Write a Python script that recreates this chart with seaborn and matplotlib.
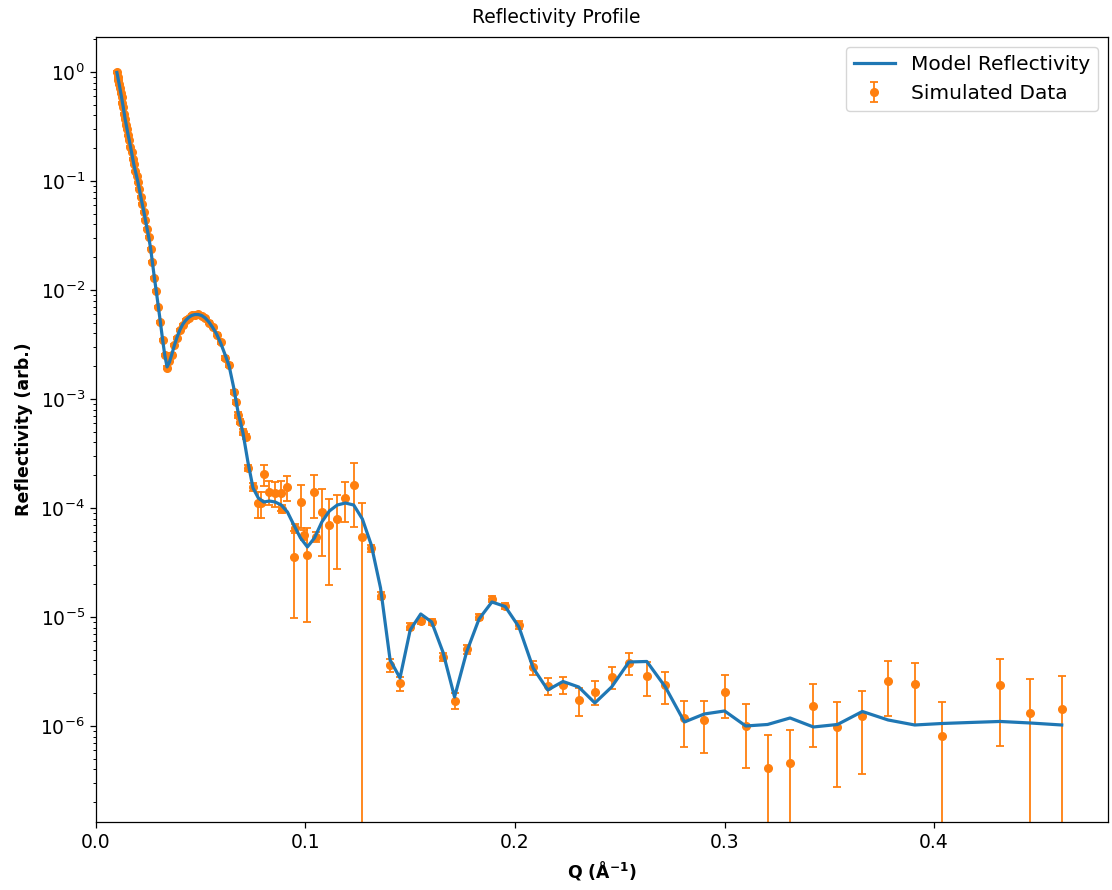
import numpy as np
import pandas as pd
import matplotlib
matplotlib.use("Agg")
import matplotlib.pyplot as plt
import seaborn as sns

# Momentum transfer grid (1/Angstrom) shared by the model curve and the main data set
q = [0.01000, 0.01034, 0.01068, 0.01104, 0.01141, 0.01180, 0.01219, 0.01260, 0.01302, 0.01346,
     0.01391, 0.01438, 0.01486, 0.01536, 0.01588, 0.01641, 0.01696, 0.01753, 0.01812, 0.01873,
     0.01936, 0.02001, 0.02068, 0.02137, 0.02209, 0.02283, 0.02360, 0.02439, 0.02521, 0.02605,
     0.02693, 0.02783, 0.02877, 0.02973, 0.03073, 0.03177, 0.03283, 0.03393, 0.03507, 0.03625,
     0.03747, 0.03873, 0.04003, 0.04137, 0.04276, 0.04419, 0.04568, 0.04721, 0.04880, 0.05043,
     0.05213, 0.05388, 0.05569, 0.05756, 0.05949, 0.06149, 0.06355, 0.06568, 0.06789, 0.07017,
     0.07252, 0.07496, 0.07748, 0.08008, 0.08276, 0.08554, 0.08842, 0.09138, 0.09445, 0.09762,
     0.10090, 0.10429, 0.10779, 0.11141, 0.11515, 0.11902, 0.12301, 0.12714, 0.13141, 0.13582,
     0.14038, 0.14510, 0.14997, 0.15500, 0.16021, 0.16559, 0.17114, 0.17689, 0.18283, 0.18897,
     0.19531, 0.20187, 0.20865, 0.21565, 0.22289, 0.23038, 0.23811, 0.24610, 0.25437, 0.26291,
     0.27174, 0.28086, 0.29029, 0.30003, 0.31010, 0.32052, 0.33128, 0.34240, 0.35390, 0.36578,
     0.37806, 0.39075, 0.40387, 0.41743, 0.43144, 0.44594, 0.46091]

# Model reflectivity at each q
model_r = [0.990, 0.919, 0.845, 0.784, 0.713, 0.648, 0.590, 0.531, 0.477, 0.421,
           0.3705, 0.3333, 0.2969, 0.2642, 0.2377, 0.2095, 0.1845, 0.1609, 0.1402, 0.1248,
           0.1111, 0.0981, 0.08445, 0.07208, 0.06152, 0.05251, 0.04387, 0.03665, 0.03032, 0.02428,
           0.01806, 0.01316, 0.00979, 0.00713, 0.00509, 0.00355, 0.00253, 0.00197, 0.00218, 0.00259,
           0.00313, 0.00371, 0.00430, 0.00483, 0.00525, 0.00559, 0.00584, 0.00596, 0.00596, 0.00584,
           0.00554, 0.00509, 0.00453, 0.00395, 0.00327, 0.00259, 0.00201, 0.001288, 0.000744, 0.000488,
           2.64e-4, 1.526e-4, 1.235e-4, 1.135e-4, 1.159e-4, 1.135e-4, 1.065e-4, 9.19e-5, 6.98e-5, 5.31e-5,
           4.39e-5, 5.31e-5, 7.44e-5, 9.39e-5, 1.065e-4, 1.111e-4, 1.065e-4, 7.93e-5, 4.575e-5, 1.845e-5,
           4.03e-6, 2.757e-6, 7.60e-6, 1.065e-5, 9.00e-6, 4.77e-6, 1.845e-6, 4.77e-6, 9.59e-6, 1.373e-5,
           1.248e-5, 8.10e-6, 3.40e-6, 2.139e-6, 2.56e-6, 2.279e-6, 1.626e-6, 2.279e-6, 3.865e-6, 3.906e-6,
           2.279e-6, 1.088e-6, 1.288e-6, 1.373e-6, 1.000e-6, 1.032e-6, 1.184e-6, 9.79e-7, 1.032e-6, 1.358e-6,
           1.135e-6, 1.021e-6, 1.054e-6, 1.077e-6, 1.100e-6, 1.065e-6, 1.021e-6]

# Simulated measurement on the same q grid (nan = non-positive count, not shown on log axis)
data_r = [1.00, 0.905, 0.852, 0.776, 0.720, 0.641, 0.596, 0.524, 0.482, 0.416,
          0.374, 0.329, 0.300, 0.262, 0.240, 0.207, 0.186, 0.159, 0.142, 0.123,
          0.112, 0.0972, 0.0851, 0.0712, 0.0621, 0.0519, 0.0442, 0.0362, 0.0306, 0.0240,
          0.0182, 0.0130, 0.00985, 0.00705, 0.00512, 0.00350, 0.00255, 0.00194, 0.00221, 0.00256,
          0.00316, 0.00366, 0.00433, 0.00477, 0.00530, 0.00553, 0.00589, 0.00590, 0.00601, 0.00578,
          0.00558, 0.00503, 0.00457, 0.00390, 0.00330, 0.00238, 0.00205, 0.00116, 0.000713, 0.000501,
          2.33e-4, 1.558e-4, 1.104e-4, 2.038e-4, 1.411e-4, 1.364e-4, 1.364e-4, 1.568e-4, 3.574e-5, 1.142e-4,
          3.705e-5, 1.411e-4, 9.25e-5, 6.98e-5, 7.93e-5, 1.243e-4, 1.626e-4, 5.38e-5, 4.27e-5, 1.568e-5,
          3.63e-6, 2.464e-6, 8.15e-6, 9.25e-6, 9.06e-6, 4.32e-6, 1.706e-6, 5.05e-6, 1.006e-5, 1.463e-5,
          1.262e-5, 8.45e-6, 3.46e-6, 2.33e-6, 2.377e-6, 1.733e-6, 2.064e-6, 2.83e-6, 3.81e-6, 2.88e-6,
          2.377e-6, 1.177e-6, 1.135e-6, 2.064e-6, 1.0e-6, 4.09e-7, 4.55e-7, 1.535e-6, 9.73e-7, 1.235e-6,
          2.606e-6, 2.415e-6, 8.15e-7, np.nan, 2.377e-6, 1.324e-6, 1.432e-6]

data_err = [0.012, 0.011, 0.010, 0.009, 0.009, 0.008, 0.007, 0.007, 0.006, 0.005,
            0.005, 0.004, 0.004, 0.0035, 0.0032, 0.0028, 0.0025, 0.0022, 0.0019, 0.0017,
            0.0015, 0.0013, 0.0012, 0.0010, 0.0009, 0.0008, 0.0007, 0.0006, 0.0005, 0.0004,
            0.0003, 0.00022, 0.00017, 0.00013, 0.0001, 0.00007, 0.00006, 0.00005, 0.00005, 0.00006,
            0.00007, 0.00008, 0.00009, 0.0001, 0.00011, 0.00012, 0.00012, 0.00013, 0.00013, 0.00013,
            0.00013, 0.00012, 0.00011, 0.0001, 0.00009, 0.00008, 0.00007, 0.00006, 0.00004, 0.00003,
            1.5e-5, 1.2e-5, 2.9e-5, 4.3e-5, 3.5e-5, 3.5e-5, 4.2e-5, 4.0e-5, 2.6e-5, 4.8e-5,
            2.8e-5, 6.0e-5, 5.6e-5, 5.0e-5, 5.2e-5, 5.0e-5, 9.5e-5, 5.7e-5, 3.0e-6, 1.2e-6,
            5e-7, 3.5e-7, 6e-7, 6e-7, 6e-7, 4e-7, 2.8e-7, 5e-7, 7e-7, 8e-7,
            8e-7, 7e-7, 5e-7, 4.1e-7, 4.2e-7, 5.0e-7, 5.0e-7, 6.3e-7, 8.9e-7, 1.0e-6,
            7.7e-7, 5.3e-7, 5.7e-7, 8.7e-7, 5.9e-7, 4.2e-7, 4.6e-7, 8.9e-7, 7.0e-7, 8.7e-7,
            1.37e-6, 1.4e-6, 8.3e-7, np.nan, 1.72e-6, 1.36e-6, 1.45e-6]

# Additional points from the overlapping second q range
extra_q = [0.0667, 0.0687, 0.0714, 0.0789, 0.0888, 0.0952, 0.0992, 0.1052]
extra_r = [9.45e-4, 6.19e-4, 4.51e-4, 1.104e-4, 9.79e-5, 6.51e-5, 5.65e-5, 5.45e-5]
extra_err = [4e-5, 3e-5, 2.5e-5, 2.9e-5, 8e-6, 6e-6, 6e-6, 6e-6]

# Axis ticks
x_ticks = [0.0, 0.1, 0.2, 0.3, 0.4]
y_ticks = [1e-6, 1e-5, 1e-4, 1e-3, 1e-2, 1e-1, 1e0]

model = pd.DataFrame({"Q": q, "R": model_r})
data = pd.DataFrame({"Q": q + extra_q,
                     "R": data_r + extra_r,
                     "err": data_err + extra_err}).dropna().sort_values("Q")

fig = plt.figure(figsize=(11.12, 8.90), dpi=100)
ax = fig.add_axes([0.0863, 0.0764, 0.9101, 0.8820])
ax.set_yscale("log")

ax.errorbar(data["Q"], data["R"], yerr=data["err"], fmt="o", color="#ff7f0e",
            markersize=5.5, capsize=3, elinewidth=1.3, capthick=1.3,
            label="Simulated Data", zorder=2)
sns.lineplot(data=model, x="Q", y="R", ax=ax, color="#1f77b4", linewidth=2.3,
             label="Model Reflectivity", errorbar=None, zorder=3)

ax.set_xlim(0, 0.483)
ax.set_ylim(1.315e-7, 2.095)
ax.set_xticks(x_ticks)
ax.set_yticks(y_ticks)
# Title centred on the figure rather than the axes
title_x = (0.5 - ax.get_position().x0) / ax.get_position().width
ax.set_title("Reflectivity Profile", fontsize=13.5, pad=10, x=title_x)
ax.set_xlabel(r"Q ($\mathbf{\AA^{-1}}$)", fontsize=12.5, fontweight="bold", labelpad=5)
ax.set_ylabel("Reflectivity (arb.)", fontsize=12.5, fontweight="bold", labelpad=5)
ax.tick_params(which="major", labelsize=13.5, length=4, width=0.9, pad=4)
ax.tick_params(which="minor", length=2.2, width=0.7)
for spine in ax.spines.values():
    spine.set_linewidth(0.9)
ax.legend(loc="upper right", fontsize=14.5)

fig.savefig("out.png", dpi=100)
